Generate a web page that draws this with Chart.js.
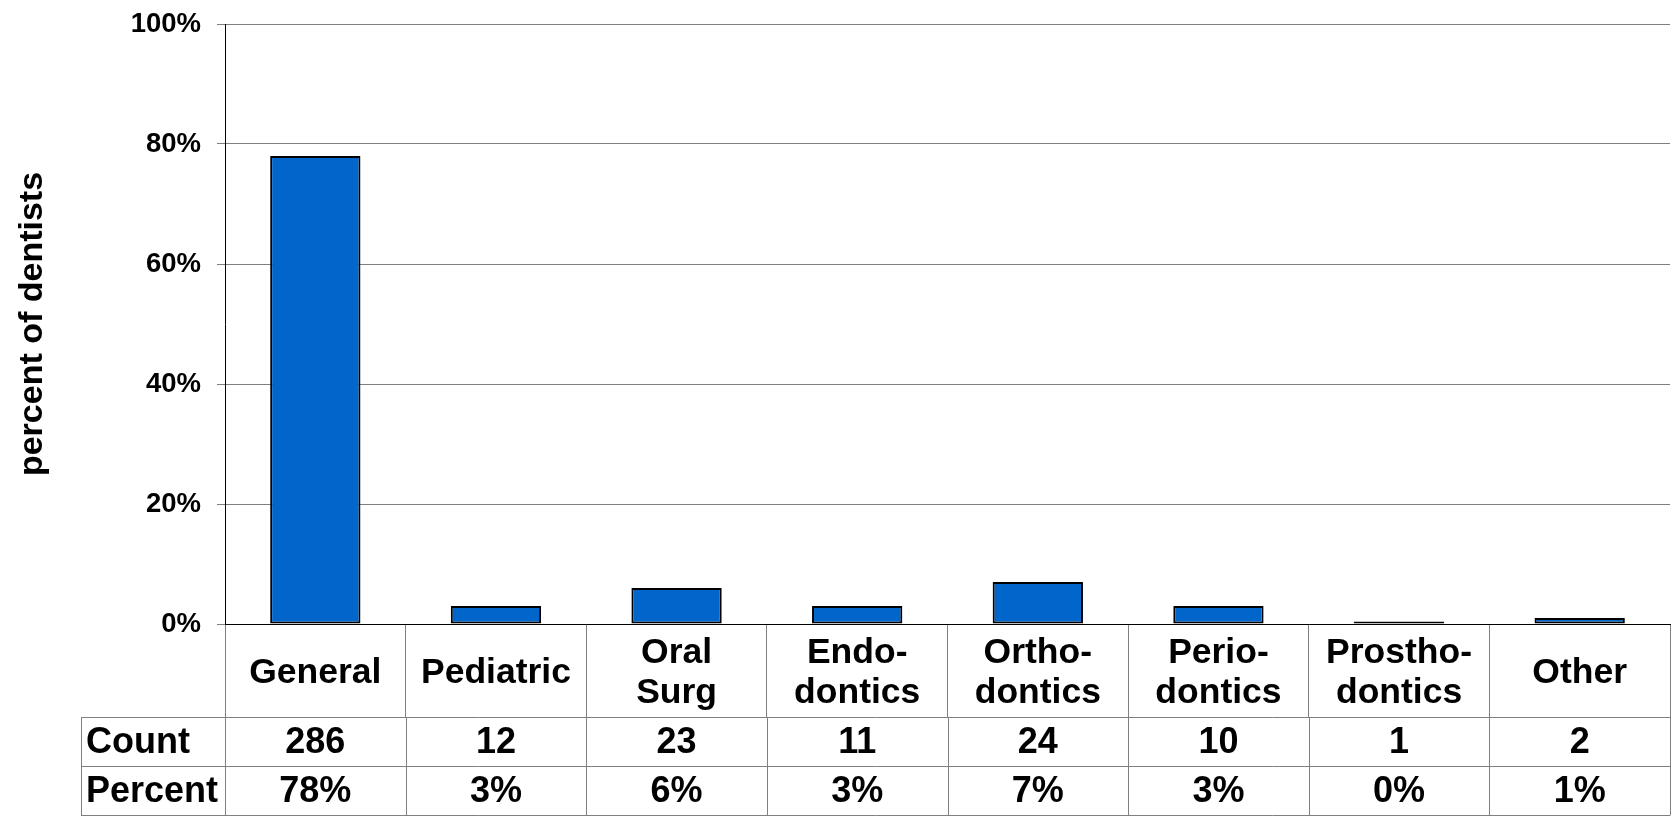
<!DOCTYPE html>
<html>
<head>
<meta charset="utf-8">
<script src="https://cdn.jsdelivr.net/npm/chart.js@4/dist/chart.umd.min.js"></script>
<style>
  html, body { margin: 0; padding: 0; background: #fff; }
  #wrap { width: 1671px; height: 817px; position: relative; }
</style>
</head>
<body>
<div id="wrap"><canvas id="chart"></canvas></div>
<script>
// ── data ────────────────────────────────────────────────────────────────────
const categories = [
  ['General'], ['Pediatric'], ['Oral', 'Surg'], ['Endo-', 'dontics'],
  ['Ortho-', 'dontics'], ['Perio-', 'dontics'], ['Prostho-', 'dontics'], ['Other']
];
const percentValues = [78, 3, 6, 3, 7, 3, 0.4, 1];
const counts = [286, 12, 23, 11, 24, 10, 1, 2];
const percentLabels = ['78%', '3%', '6%', '3%', '7%', '3%', '0%', '1%'];
const tableRows = ['Count', 'Percent'];
const yTicks = [0, 20, 40, 60, 80, 100];

const FONT = "'Liberation Sans', Arial, sans-serif";
const GRID = '#808080';
const LABEL_ROW = 93;    // height of the category-name row under the axis
const ROW_H = 49.2;      // height of Count / Percent rows
const TABLE_LEFT = 81;

// draws the Count / Percent rows beneath the category axis
const dataTable = {
  id: 'dataTable',
  afterDraw(chart) {
    const { ctx, chartArea, scales: { x } } = chart;
    const top = chartArea.bottom + LABEL_ROW;
    const half = (x.getPixelForValue(1) - x.getPixelForValue(0)) / 2;
    const rowsData = [counts.map(String), percentLabels];

    ctx.save();
    ctx.strokeStyle = GRID;
    ctx.lineWidth = 1;
    ctx.beginPath();
    for (let r = 0; r <= tableRows.length; r++) {
      const y = Math.round(top + r * ROW_H) + 0.5;
      ctx.moveTo(TABLE_LEFT, y);
      ctx.lineTo(chartArea.right, y);
    }
    const yEnd = top + tableRows.length * ROW_H;
    ctx.moveTo(TABLE_LEFT + 0.5, top);
    ctx.lineTo(TABLE_LEFT + 0.5, yEnd);
    for (let i = 0; i <= categories.length; i++) {
      const xx = Math.round(x.getPixelForValue(i) - half) + 0.5;
      ctx.moveTo(xx, top);
      ctx.lineTo(xx, yEnd);
    }
    ctx.stroke();

    ctx.fillStyle = '#000';
    ctx.font = `bold 36px ${FONT}`;
    ctx.textBaseline = 'middle';
    tableRows.forEach((name, r) => {
      const cy = top + r * ROW_H + ROW_H / 2 + 1;
      ctx.textAlign = 'left';
      ctx.fillText(name, TABLE_LEFT + 5, cy);
      ctx.textAlign = 'center';
      rowsData[r].forEach((v, i) => ctx.fillText(v, x.getPixelForValue(i), cy));
    });
    ctx.restore();
  }
};

new Chart(document.getElementById('chart'), {
  type: 'bar',
  data: {
    labels: categories,
    datasets: [{
      data: percentValues,
      backgroundColor: '#0066CC',
      borderColor: '#000',
      borderWidth: 2,
      borderSkipped: false,
      barPercentage: 0.5,
      categoryPercentage: 1
    }]
  },
  options: {
    responsive: true, maintainAspectRatio: false,
    animation: false,
    events: [],
    layout: { padding: { top: 24, right: 1, left: 0, bottom: 0 } },
    plugins: { legend: { display: false }, tooltip: { enabled: false } },
    scales: {
      x: {
        grid: { color: GRID, drawOnChartArea: false, tickLength: LABEL_ROW, offset: true },
        border: { color: '#000', width: 1 },
        ticks: {
          color: '#000', font: { family: FONT, size: 35.5, weight: 'bold', lineHeight: 1.13 },
          maxRotation: 0, autoSkip: false, crossAlign: 'center', padding: -64
        },
        afterFit(s) { s.height = 193; s.paddingLeft = 0; s.paddingRight = 0; }
      },
      y: {
        min: 0, max: 100,
        grid: { color: GRID, tickLength: 8 },
        border: { color: '#000', width: 1 },
        afterBuildTicks(s) { s.ticks = yTicks.map(v => ({ value: v })); },
        ticks: {
          color: '#000', padding: 16,
          font: { family: FONT, size: 27.5, weight: 'bold' },
          callback: v => v + '%'
        },
        title: {
          display: true, text: 'percent of dentists', color: '#000',
          font: { family: FONT, size: 34, weight: 'bold' },
          padding: { top: 12, bottom: 0 }
        },
        afterFit(s) { s.width = 225; s.paddingTop = 0; s.paddingBottom = 0; }
      }
    }
  },
  plugins: [dataTable]
});
</script>
</body>
</html>
